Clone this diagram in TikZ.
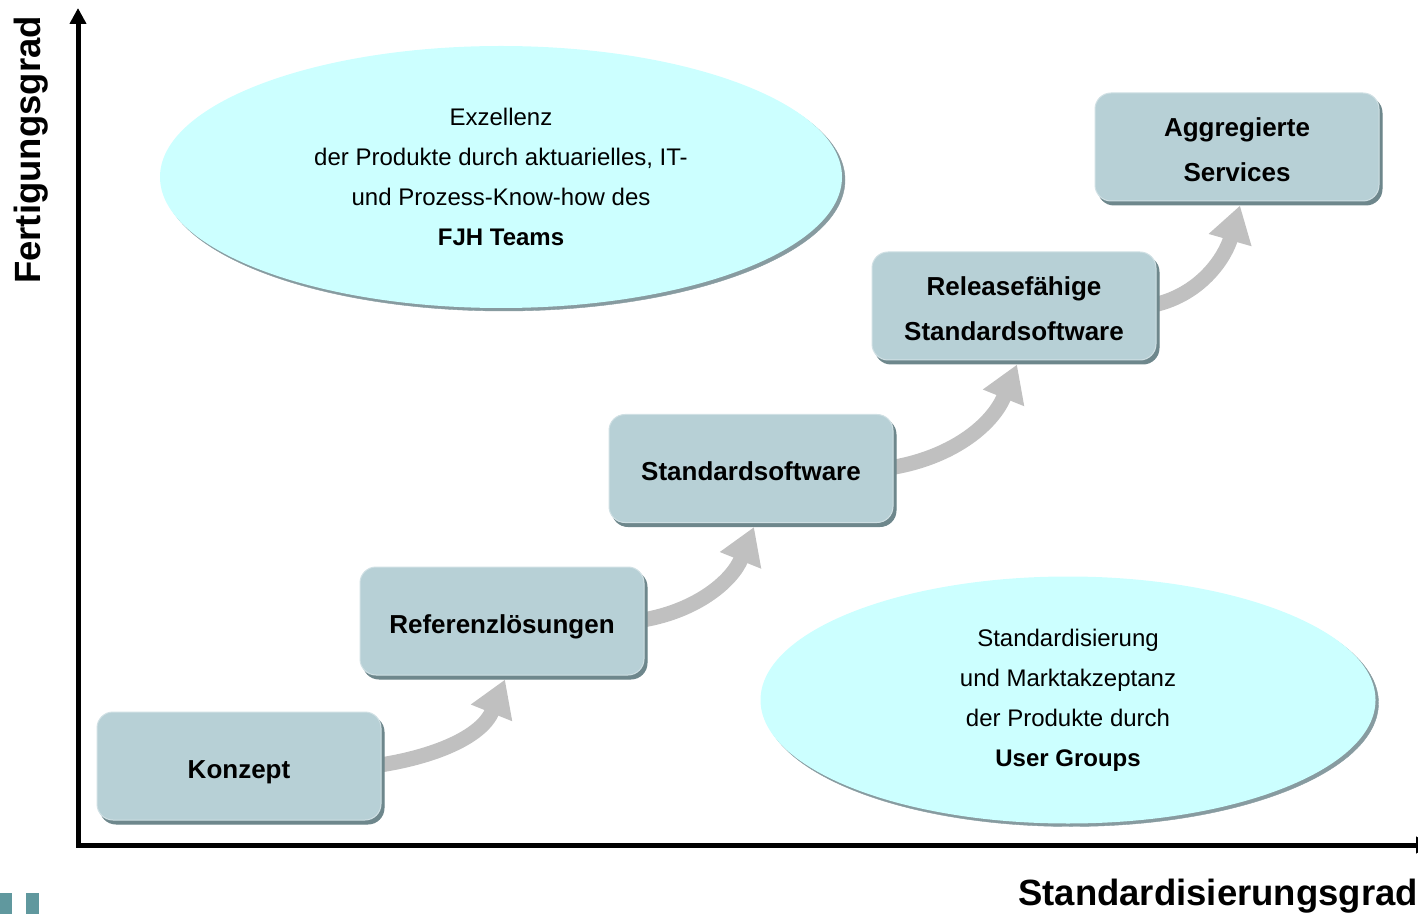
\documentclass[tikz,border=0pt]{standalone}
\usepackage{fontspec}
\setmainfont{Liberation Sans}
\usetikzlibrary{arrows.meta,shapes.geometric,shadows,backgrounds}
\definecolor{boxfill}{RGB}{183,208,214}
\definecolor{boxshadow}{RGB}{110,135,140}
\definecolor{boxedge}{RGB}{208,224,228}
\definecolor{ellfill}{RGB}{204,255,255}
\definecolor{ellshadow}{RGB}{135,155,160}
\definecolor{arrowgray}{RGB}{192,192,192}
\definecolor{markteal}{RGB}{96,152,158}
\newcommand\stagestrut{\rule[-6pt]{0pt}{36pt}}
\begin{document}
\begin{tikzpicture}[x=1pt,y=1pt,
  stage/.style={rectangle, rounded corners=16pt, fill=boxfill, draw=boxedge, line width=1pt,
    minimum width=284pt, minimum height=108pt, inner sep=0pt, align=center,
    font=\fontsize{26}{45}\selectfont\bfseries,
    drop shadow={shadow xshift=3pt, shadow yshift=-4pt, fill=boxshadow, draw=boxshadow, opacity=1}},
  bubble/.style={ellipse, fill=ellfill, inner sep=0pt, align=center,
    font=\fontsize{24}{40}\selectfont,
    drop shadow={shadow xshift=3pt, shadow yshift=-3pt, fill=ellshadow, draw=ellshadow, opacity=1}},
  flow/.style={arrowgray, line width=15pt, -{Triangle[length=36pt,width=42pt]}},
  axis/.style={black, line width=5pt, {Triangle[length=16pt,width=16pt]}-{Triangle[length=16pt,width=16pt]}},
  axislabel/.style={font=\fontsize{36.5}{40}\selectfont\bfseries, inner sep=0pt}]
\useasboundingbox (0,0) rectangle (1418,914);

% axes
\coordinate (ytop) at (78,906);
\coordinate (orig) at (78,69);
\coordinate (xend) at (1432,69);
\draw[axis, line join=miter] (ytop) -- (orig) -- (xend);
\node[axislabel, rotate=90, anchor=base] (ylab) at (40,764) {Fertigungsgrad};
\node[axislabel, anchor=base east] (xlab) at (1418,9) {Standardisierungsgrad};

% bubbles
\node[bubble, minimum width=682pt, minimum height=262pt] (e1) at (501,737)
  {Exzellenz\\der Produkte durch aktuarielles, IT-\\und Prozess-Know-how des\\\textbf{FJH Teams}};
\node[bubble, minimum width=615pt, minimum height=247pt] (e2) at (1068,214)
  {Standardisierung\\und Marktakzeptanz\\der Produkte durch\\\textbf{User Groups}};

% stages
\node[stage] (k) at (239,148) {\stagestrut Konzept};
\node[stage] (r) at (502,293) {\stagestrut Referenzlösungen};
\node[stage] (s) at (751,445.5) {\stagestrut Standardsoftware};
\node[stage] (rel) at (1014,608) {\stagestrut Releasefähige\\\stagestrut Standardsoftware};
\node[stage] (a) at (1237,767) {\stagestrut Aggregierte\\\stagestrut Services};

% arrows
\begin{scope}[on background layer]
\draw[flow] ([xshift=-8pt]k.east) to[out=8,in=248] ([xshift=3pt,yshift=-4pt]r.south);
\draw[flow] ([xshift=-8pt]r.east) to[out=8,in=248] ([xshift=3pt,yshift=-4pt]s.south);
\draw[flow] ([xshift=-8pt]s.east) to[out=8,in=248] ([xshift=3pt,yshift=-4pt]rel.south);
\draw[flow] ([xshift=-8pt]rel.east) to[out=10,in=254] ([xshift=3pt,yshift=-4pt]a.south);
\end{scope}

% corner marks
\fill[markteal] (0,0) rectangle (12,21);
\fill[markteal] (26,0) rectangle (39,21);
\end{tikzpicture}
\end{document}
